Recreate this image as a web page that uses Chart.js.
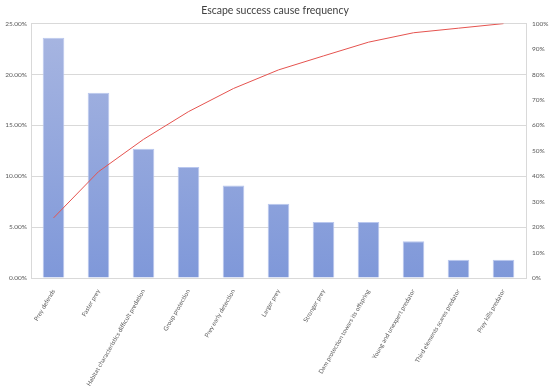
<!DOCTYPE html>
<html>
<head>
<meta charset="utf-8">
<script src="https://cdn.jsdelivr.net/npm/chart.js@4"></script>
<style>
  html, body { margin: 0; padding: 0; background: #fff; }
  #wrap { width: 550px; height: 390px; }
</style>
</head>
<body>
<div id="wrap"><canvas id="pareto"></canvas></div>
<script>
const causes = [
  'Prey defends',
  'Faster prey',
  'Habitat characteristics difficult predation',
  'Group protection',
  'Prey early detection',
  'Larger prey',
  'Stronger prey',
  'Dam protection towars its offspring',
  'Young and unexpert predator',
  'Third elements scares predator',
  'Prey kills predator'
]
const frequency = [23.6, 18.2, 12.7, 10.9, 9.1, 7.3, 5.5, 5.5, 3.6, 1.8, 1.8]
const cumulative = [23.6, 41.8, 54.5, 65.4, 74.5, 81.8, 87.3, 92.7, 96.4, 98.2, 100]
const leftTicks = [0, 5, 10, 15, 20, 25]
const rightTicks = [0, 10, 20, 30, 40, 50, 60, 70, 80, 90, 100]

const tickFont = { family: 'Lato', size: 6.5 }
const tickColor = '#595959'

function barGradient(context) {
  const area = context.chart.chartArea
  if (!area) return '#8fa3dc'
  const g = context.chart.ctx.createLinearGradient(0, area.top, 0, area.bottom)
  g.addColorStop(0, '#a8b6e1')
  g.addColorStop(1, '#7f98d9')
  return g
}

new Chart(document.getElementById('pareto'), {
  data: {
    labels: causes,
    datasets: [
      {
        type: 'line',
        label: 'Cumulative',
        data: cumulative,
        yAxisID: 'y1',
        borderColor: '#e5534f',
        borderWidth: 1,
        pointRadius: 0,
        tension: 0,
        order: 0
      },
      {
        type: 'bar',
        label: 'Frequency',
        data: frequency,
        yAxisID: 'y',
        backgroundColor: barGradient,
        borderColor: '#b9c7ee',
        borderWidth: 1,
        barPercentage: 0.48,
        categoryPercentage: 1,
        order: 1
      }
    ]
  },
  options: {
    responsive: true,
    maintainAspectRatio: false,
    animation: false,
    layout: { padding: 0 },
    plugins: {
      legend: { display: false },
      tooltip: { enabled: false },
      title: {
        display: true,
        text: 'Escape success cause frequency',
        color: '#404040',
        font: { family: 'Lato', size: 10.5, weight: 'normal' },
        padding: { top: 4, bottom: 7 }
      }
    },
    scales: {
      x: {
        grid: { display: false },
        border: { color: '#d9d9d9' },
        afterFit: axis => { axis.height = 112 },
        ticks: {
          color: tickColor,
          font: { family: 'Lato', size: 6.2 },
          minRotation: 60,
          maxRotation: 60,
          autoSkip: false,
          padding: 2
        }
      },
      y: {
        position: 'left',
        min: 0,
        max: 25,
        afterBuildTicks: axis => { axis.ticks = leftTicks.map(v => ({ value: v })) },
        afterFit: axis => { axis.width = 31 },
        grid: { color: '#d9d9d9', drawTicks: false },
        border: { color: '#d9d9d9' },
        ticks: {
          color: tickColor,
          font: tickFont,
          padding: 4,
          callback: v => v.toFixed(2) + '%'
        }
      },
      y1: {
        position: 'right',
        min: 0,
        max: 100,
        afterBuildTicks: axis => { axis.ticks = rightTicks.map(v => ({ value: v })) },
        afterFit: axis => { axis.width = 24 },
        grid: { display: false, drawTicks: false },
        border: { color: '#d9d9d9' },
        ticks: {
          color: tickColor,
          font: tickFont,
          padding: 6,
          callback: v => v + '%'
        }
      }
    }
  }
})
</script>
</body>
</html>
